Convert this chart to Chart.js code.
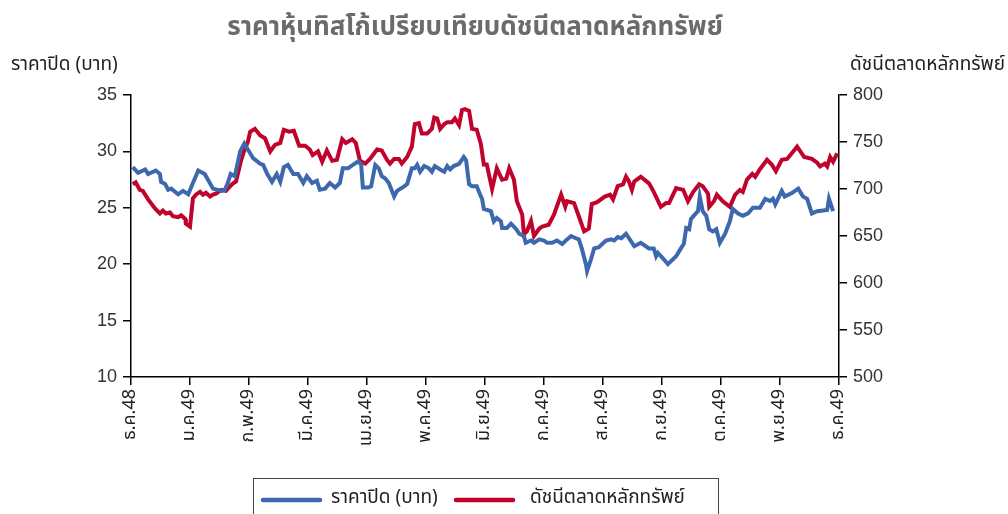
<!DOCTYPE html>
<html>
<head>
<meta charset="utf-8">
<script src="https://cdn.jsdelivr.net/npm/chart.js@4"></script>
<style>
  html, body { margin: 0; padding: 0; background: #fff; }
  #wrap { width: 1008px; height: 514px; }
</style>
</head>
<body>
<div id="wrap"><canvas id="myChart" width="1008" height="514"></canvas></div>
<script>
// tick labels, one per month (x = months since Dec 2005)
const monthLabels = ["ธ.ค.48", "ม.ค.49", "ก.พ.49", "มี.ค.49", "เม.ย.49", "พ.ค.49", "มิ.ย.49",
  "ก.ค.49", "ส.ค.49", "ก.ย.49", "ต.ค.49", "พ.ย.49", "ธ.ค.49"];

// closing price (baht)
const priceX = [0.03, 0.12, 0.24, 0.29, 0.42, 0.49, 0.51, 0.58, 0.63, 0.68, 0.80, 0.88, 0.97, 1.05, 1.14,
  1.25, 1.39, 1.53, 1.59, 1.64, 1.69, 1.76, 1.85, 1.92, 2.07, 2.19, 2.24, 2.31, 2.39, 2.47, 2.53, 2.59,
  2.66, 2.75, 2.83, 2.92, 2.98, 3.07, 3.15, 3.20, 3.29, 3.37, 3.46, 3.54, 3.59, 3.68, 3.76, 3.85, 3.90,
  3.93, 4.02, 4.07, 4.14, 4.20, 4.25, 4.31, 4.37, 4.46, 4.51, 4.63, 4.68, 4.76, 4.81, 4.85, 4.90, 4.97,
  5.05, 5.10, 5.15, 5.24, 5.31, 5.36, 5.41, 5.47, 5.56, 5.64, 5.68, 5.73, 5.78, 5.86, 5.93, 5.95, 5.98,
  6.10, 6.15, 6.20, 6.27, 6.29, 6.37, 6.44, 6.53, 6.58, 6.66, 6.69, 6.78, 6.83, 6.92, 7.00, 7.05, 7.14,
  7.22, 7.31, 7.39, 7.46, 7.54, 7.59, 7.64, 7.71, 7.73, 7.80, 7.85, 7.93, 8.05, 8.14, 8.19, 8.25, 8.31,
  8.39, 8.53, 8.64, 8.78, 8.86, 8.90, 8.93, 9.02, 9.10, 9.24, 9.32, 9.37, 9.41, 9.46, 9.49, 9.54, 9.61,
  9.64, 9.69, 9.75, 9.80, 9.86, 9.92, 9.98, 10.07, 10.15, 10.20, 10.29, 10.37, 10.46, 10.54, 10.66,
  10.75, 10.83, 10.88, 10.92, 11.03, 11.08, 11.20, 11.31, 11.39, 11.46, 11.54, 11.63, 11.80, 11.83, 11.90];
const priceY = [28.6, 28.1, 28.4, 28.0, 28.3, 28.0, 27.3, 27.1, 26.6, 26.7, 26.2, 26.5, 26.2, 27.2, 28.3,
  28.0, 26.7, 26.5, 26.6, 27.2, 28.0, 27.8, 30.0, 30.7, 29.4, 28.9, 28.8, 28.0, 27.3, 28.0, 27.3, 28.6,
  28.8, 28.0, 28.0, 27.2, 27.8, 27.2, 27.4, 26.6, 26.7, 27.2, 26.8, 27.2, 28.5, 28.5, 28.8, 29.1, 28.9,
  26.8, 26.8, 26.9, 28.8, 28.5, 27.8, 27.6, 27.2, 26.0, 26.5, 26.9, 27.1, 28.5, 28.5, 28.8, 28.2, 28.7,
  28.5, 28.2, 28.7, 28.4, 28.2, 28.7, 28.4, 28.7, 28.9, 29.5, 29.2, 27.1, 26.9, 26.9, 26.0, 25.8, 24.9,
  24.7, 23.8, 24.1, 23.8, 23.2, 23.2, 23.6, 23.1, 22.7, 22.5, 21.9, 22.1, 21.9, 22.2, 22.1, 21.9, 21.9,
  22.1, 21.8, 22.2, 22.5, 22.3, 22.2, 21.4, 20.0, 19.4, 20.5, 21.4, 21.5, 22.1, 22.2, 22.1, 22.4, 22.3,
  22.7, 21.6, 21.9, 21.4, 21.4, 20.7, 21.0, 20.5, 20.0, 20.7, 21.4, 21.8, 23.2, 23.1, 24.0, 24.3, 24.7,
  26.0, 24.7, 24.3, 23.1, 22.9, 23.1, 21.9, 22.7, 23.8, 24.9, 24.5, 24.3, 24.5, 25.0, 25.0,
  25.8, 25.6, 25.8, 25.3, 26.5, 26.0, 26.3, 26.7, 26.0, 25.8, 24.5, 24.7, 24.8, 25.8, 24.7];

// SET index
const indexX = [0.03, 0.08, 0.15, 0.20, 0.29, 0.41, 0.49, 0.54, 0.59, 0.66, 0.71, 0.80, 0.85, 0.92, 0.93,
  1.00, 1.05, 1.10, 1.17, 1.22, 1.27, 1.34, 1.39, 1.44, 1.53, 1.61, 1.68, 1.73, 1.78, 1.86, 1.93, 1.98,
  2.02, 2.10, 2.19, 2.27, 2.36, 2.44, 2.53, 2.59, 2.68, 2.76, 2.85, 2.95, 3.03, 3.08, 3.17, 3.24, 3.32,
  3.41, 3.49, 3.58, 3.64, 3.75, 3.81, 3.88, 3.97, 4.05, 4.17, 4.25, 4.34, 4.39, 4.46, 4.54, 4.59, 4.68,
  4.76, 4.81, 4.88, 4.93, 5.02, 5.10, 5.14, 5.19, 5.24, 5.31, 5.36, 5.44, 5.49, 5.56, 5.61, 5.66, 5.73,
  5.78, 5.86, 5.93, 5.98, 6.03, 6.12, 6.20, 6.29, 6.36, 6.41, 6.49, 6.54, 6.61, 6.63, 6.66, 6.71, 6.78,
  6.83, 6.92, 6.97, 7.08, 7.17, 7.29, 7.36, 7.39, 7.51, 7.59, 7.68, 7.76, 7.81, 7.90, 8.03, 8.12, 8.17,
  8.25, 8.34, 8.39, 8.44, 8.49, 8.53, 8.64, 8.78, 8.86, 8.98, 9.07, 9.12, 9.24, 9.36, 9.44, 9.53, 9.63,
  9.69, 9.78, 9.80, 9.88, 9.93, 10.03, 10.15, 10.24, 10.32, 10.37, 10.44, 10.53, 10.58, 10.66, 10.78,
  10.86, 10.93, 11.03, 11.12, 11.20, 11.29, 11.41, 11.54, 11.63, 11.68, 11.76, 11.80, 11.85, 11.90, 11.97];
const indexY = [705, 707, 699, 698, 689, 679, 674, 677, 674, 675, 671, 670, 672, 668, 663,
  660, 690, 694, 697, 694, 696, 692, 694, 695, 699, 698, 703, 706, 708, 729, 743, 750,
  761, 764, 757, 754, 740, 747, 749, 763, 761, 762, 746, 746, 742, 736, 740, 729, 741,
  730, 731, 753, 749, 753, 749, 730, 727, 732, 742, 741, 731, 727, 732, 732, 727, 734,
  745, 769, 770, 759, 759, 764, 776, 775, 764, 769, 771, 771, 775, 768, 784, 785, 783,
  764, 763, 748, 726, 726, 700, 722, 710, 711, 722, 710, 687, 676, 673, 652, 655, 666,
  650, 658, 660, 662, 673, 694, 681, 687, 685, 671, 655, 658, 684, 686, 692, 694, 689,
  703, 705, 713, 708, 699, 708, 713, 706, 697, 681, 685, 685, 701, 699, 687, 697, 705,
  703, 695, 681, 687, 694, 687, 681, 694, 699, 697, 710, 716, 713, 721, 731,
  726, 719, 731, 732, 738, 745, 734, 732, 728, 724, 727, 724, 734, 729, 738];

const titleText = "ราคาหุ้นทิสโก้เปรียบเทียบดัชนีตลาดหลักทรัพย์";
const leftAxisText = "ราคาปิด (บาท)";
const rightAxisText = "ดัชนีตลาดหลักทรัพย์";

const FONT = "'Noto Sans Thai', 'Noto Sans', Tahoma, sans-serif";
const NUM_FONT = "'Liberation Sans', Arial, sans-serif";
const BLUE = "#3d68ae";
const RED = "#c0032c";

// title, axis captions and the framed legend
const textPlugin = {
  id: "texts",
  afterDraw(chart) {
    const ctx = chart.ctx;
    ctx.save();
    ctx.textBaseline = "middle";
    ctx.fillStyle = "#6b6b6b";
    ctx.font = "bold 26px " + FONT;
    ctx.textAlign = "center";
    ctx.fillText(titleText, 475, 30);
    ctx.fillStyle = "#222";
    ctx.font = "19px " + FONT;
    ctx.textAlign = "left";
    ctx.fillText(leftAxisText, 11, 66);
    ctx.textAlign = "right";
    ctx.fillText(rightAxisText, 1005, 66);

    // legend
    ctx.strokeStyle = "#444";
    ctx.lineWidth = 1;
    ctx.strokeRect(253.5, 478.5, 465, 60);
    const items = [
      { color: chart.data.datasets[0].borderColor, text: chart.data.datasets[0].label, x: 263, gap: 68 },
      { color: chart.data.datasets[1].borderColor, text: chart.data.datasets[1].label, x: 456, gap: 74 },
    ];
    ctx.font = "19px " + FONT;
    ctx.textAlign = "left";
    items.forEach((it) => {
      ctx.strokeStyle = it.color;
      ctx.lineWidth = 4.5;
      ctx.lineCap = "round";
      ctx.beginPath();
      ctx.moveTo(it.x, 500);
      ctx.lineTo(it.x + 57, 500);
      ctx.stroke();
      ctx.fillStyle = "#222";
      ctx.fillText(it.text, it.x + it.gap, 499);
    });
    ctx.restore();
  },
};

const toPoints = (xs, ys) => xs.map((x, i) => ({ x: x, y: ys[i] }));

const chart = new Chart(document.getElementById("myChart").getContext("2d"), {
  type: "line",
  data: {
    datasets: [
      {
        label: leftAxisText,
        data: toPoints(priceX, priceY),
        borderColor: BLUE,
        backgroundColor: BLUE,
        borderWidth: 4,
        pointRadius: 0,
        yAxisID: "y",
      },
      {
        label: rightAxisText,
        data: toPoints(indexX, indexY),
        borderColor: RED,
        backgroundColor: RED,
        borderWidth: 4,
        pointRadius: 0,
        yAxisID: "y1",
      },
    ],
  },
  options: {
    responsive: false,
    animation: false,
    layout: { padding: { top: 95, left: 0, right: 0, bottom: 47 } },
    plugins: {
      title: { display: false },
      tooltip: { enabled: false },
      legend: { display: false },
    },
    scales: {
      x: {
        type: "linear",
        min: 0,
        max: 12,
        afterFit(scale) { scale.height = 90; },
        afterBuildTicks(scale) {
          scale.ticks = monthLabels.map((_, i) => ({ value: i }));
        },
        ticks: {
          autoSkip: false,
          maxRotation: 90,
          minRotation: 90,
          color: "#222",
          font: { family: FONT, size: 18 },
          padding: 4,
          callback: (v) => monthLabels[v],
        },
        grid: { drawOnChartArea: false, tickLength: 8, color: "#000", lineWidth: 1.5 },
        border: { display: true, color: "#000", width: 1.5 },
      },
      y: {
        position: "left",
        min: 10,
        max: 35,
        afterFit(scale) { scale.width = 131; },
        ticks: { stepSize: 5, color: "#333", font: { family: NUM_FONT, size: 18 }, padding: 6 },
        grid: { drawOnChartArea: false, tickLength: 8, color: "#000", lineWidth: 1.5 },
        border: { display: true, color: "#000", width: 1.5 },
      },
      y1: {
        position: "right",
        min: 500,
        max: 800,
        afterFit(scale) { scale.width = 169; },
        ticks: { stepSize: 50, color: "#333", font: { family: NUM_FONT, size: 18 }, padding: 6 },
        grid: { drawOnChartArea: false, tickLength: 8, color: "#000", lineWidth: 1.5 },
        border: { display: true, color: "#000", width: 1.5 },
      },
    },
  },
  plugins: [textPlugin],
});
</script>
</body>
</html>
